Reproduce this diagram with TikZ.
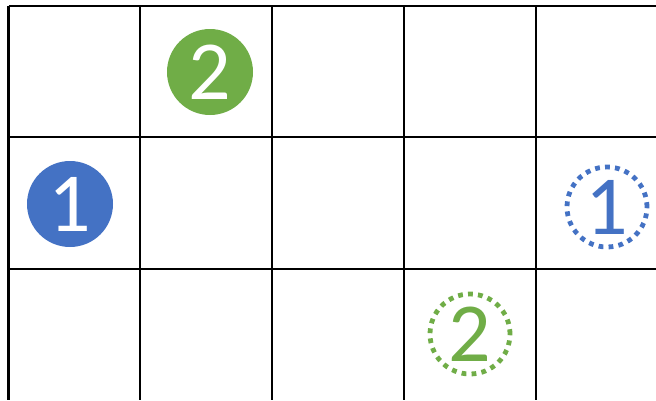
\documentclass[tikz,border=0pt]{standalone}
\usepackage{fontspec}
\setmainfont{Carlito}
\definecolor{oblue}{HTML}{4472C4}
\definecolor{ogreen}{HTML}{70AD47}
\begin{document}
\begin{tikzpicture}[x=1pt,y=-1pt,
  gridline/.style={line width=2.4pt,black},
  filledmark/.style={circle,minimum size=86pt,inner sep=0pt,text=white,font=\fontsize{84}{84}\selectfont},
  dotmark/.style={circle,minimum size=80pt,inner sep=0pt,line width=4.8pt,dash pattern=on 4.8pt off 5.2pt,font=\fontsize{84}{84}\selectfont}]
\useasboundingbox (0,0) rectangle (656,400);
\foreach \x in {8.5,140,272,404,536} \draw[gridline] (\x,6) -- (\x,400);
\foreach \y in {6,137,269} \draw[gridline] (8.5,\y) -- (656,\y);
\node[filledmark,fill=ogreen] (g2) at (210,72) {2};
\node[filledmark,fill=oblue] (b1) at (70,204) {1};
\node[dotmark,draw=oblue,text=oblue] (b1d) at (607,207) {1};
\node[dotmark,draw=ogreen,text=ogreen] (g2d) at (470,334) {2};
\end{tikzpicture}
\end{document}
